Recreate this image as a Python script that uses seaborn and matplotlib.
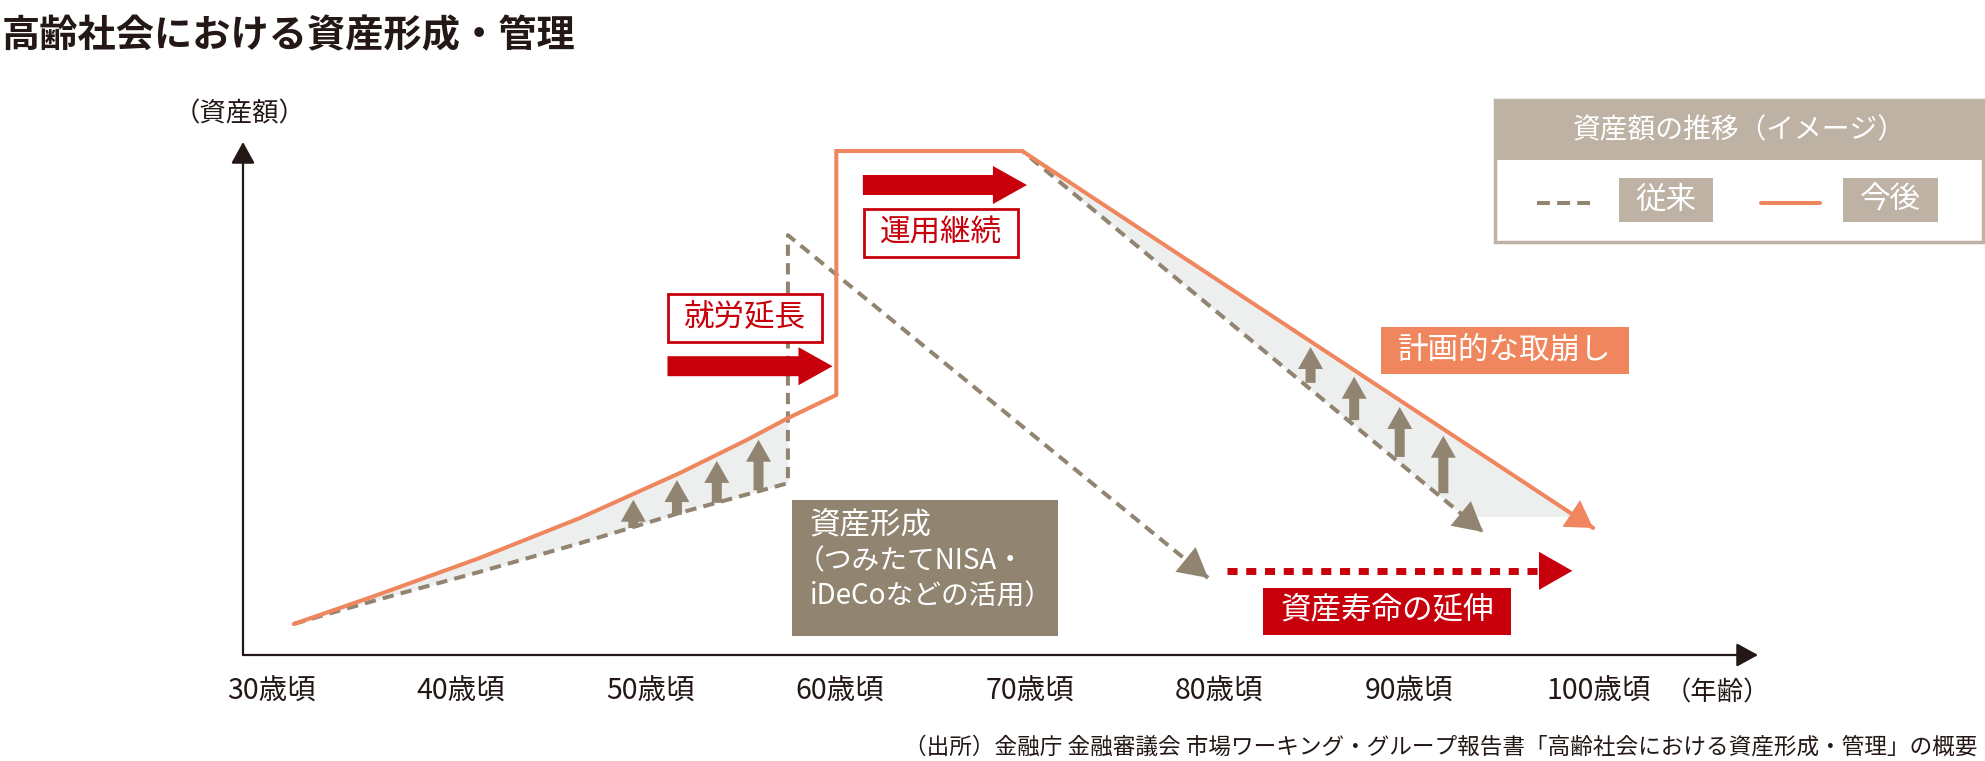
import numpy as np
import matplotlib
matplotlib.use("Agg")
import matplotlib.pyplot as plt
from matplotlib.patches import Rectangle
from matplotlib.lines import Line2D
import seaborn as sns

# data: age (years) vs asset amount (image units, peak = 100)
future_age = [31.2, 35.75, 41.0, 46.3, 51.55, 55.1, 57.25, 59.8, 59.8, 69.6, 99.7]
future_amt = [6.15, 12.1, 19.25, 27.2, 36.1, 42.7, 47.0, 51.6, 100, 100, 25.2]

past_age = [31.2, 32.95, 35.75, 41.0, 46.3, 51.55, 57.25, 57.25, 79.4]
past_amt = [6.15, 8.1, 11.1, 16.5, 22.2, 28.2, 34.1, 83.3, 15.3]

past2_age = [69.6, 93.9]
past2_amt = [100, 24.4]

# small up arrows (asset build-up / slower drawdown)
boost_age = [49.1, 51.4, 53.5, 55.7]
boost_from = [25.2, 27.8, 30.2, 32.7]
boost_to = [30.8, 34.7, 38.5, 42.7]

draw_age = [84.8, 87.1, 89.5, 91.8]
draw_from = [54.0, 46.6, 39.3, 32.1]
draw_to = [61.1, 55.2, 49.2, 43.5]

fill_floor = 27.4

tick_ages = [30, 40, 50, 60, 70, 80, 90, 100]
tick_labels = [f"{a}歳頃" for a in tick_ages]

# red arrows: (start age, end age, level)
work_arrow = (50.9, 59.6, 57.3)
invest_arrow = (61.2, 69.85, 93.25)
life_arrow = (80.4, 98.6, 16.7)

orange = "#EF865D"
brown = "#918470"
red = "#C7000B"
taupe = "#BDB2A4"
fillc = "#EDEFEE"

sns.set_style("white")
plt.rcParams["font.family"] = ["Noto Sans CJK JP", "DejaVu Sans"]

W, H = 1985, 761
def fx(x): return x / W
def fy(y): return 1 - y / H

fig = plt.figure(figsize=(W / 100, H / 100), dpi=100)

# pixel layout of the plot area
px30, px_year, py0, py_unit = 271, 18.97, 655, 5.04
left_px, right_px, top_px = 243, 1758, 142
ax = fig.add_axes([fx(left_px), fy(py0), (right_px - left_px) / W, (py0 - top_px) / H])
ax.set_xlim(30 + (left_px - px30) / px_year, 30 + (right_px - px30) / px_year)
ax.set_ylim(0, (py0 - top_px) / py_unit)
for s in ax.spines.values():
    s.set_visible(False)
ax.set_xticks(tick_ages, tick_labels)
ax.set_yticks([])
ax.tick_params(axis="x", length=0, pad=16, labelsize=20.5, labelcolor="#231815")
ax.set_xlabel("")
ax.set_ylabel("")

# axis arrows
ax_arrow = dict(arrowstyle="-|>,head_length=0.6,head_width=0.33", color="#231815",
                lw=1.6, shrinkA=0, shrinkB=0, mutation_scale=22)
ax.annotate("", xy=(1, 0), xytext=(0, 0), xycoords="axes fraction", arrowprops=ax_arrow, annotation_clip=False)
ax.annotate("", xy=(0, 1), xytext=(0, 0), xycoords="axes fraction", arrowprops=ax_arrow, annotation_clip=False)

# shaded gaps
xs = np.linspace(past_age[0], past_age[6], 300)
up = np.interp(xs, future_age[:8], future_amt[:8])
lo = np.interp(xs, past_age[:7], past_amt[:7])
ax.fill_between(xs, lo, up, color=fillc, lw=0, zorder=1)

or_end = np.interp(fill_floor, [future_amt[-1], future_amt[-2]], [future_age[-1], future_age[-2]])
br_end = np.interp(fill_floor, [past2_amt[1], past2_amt[0]], [past2_age[1], past2_age[0]])
ax.fill([past2_age[0], or_end, br_end], [past2_amt[0], fill_floor, fill_floor], color=fillc, lw=0, zorder=1)

# lines
sns.lineplot(x=past_age, y=past_amt, sort=False, estimator=None, color=brown, lw=2.9, ax=ax, zorder=3)
ax.lines[-1].set_linestyle((0, (2.8, 1.8)))
sns.lineplot(x=past2_age, y=past2_amt, sort=False, estimator=None, color=brown, lw=2.9, ax=ax, zorder=3)
ax.lines[-1].set_linestyle((2, (2.8, 1.8)))
sns.lineplot(x=future_age, y=future_amt, sort=False, estimator=None, color=orange, lw=2.9, ax=ax, zorder=4)
ax.lines[-1].set_solid_joinstyle("miter")

def head(tip, tail, color, length, width):
    ax.annotate("", xy=tip, xytext=tail,
                arrowprops=dict(arrowstyle=f"-|>,head_length={length},head_width={width}",
                                color=color, lw=0, shrinkA=0, shrinkB=0, mutation_scale=10),
                zorder=5, annotation_clip=False)

head((past_age[-1], past_amt[-1]), (past_age[-2], past_amt[-2]), brown, 2.1, 1.15)
head((past2_age[-1], past2_amt[-1]), (past2_age[0], past2_amt[0]), brown, 2.1, 1.15)
head((future_age[-1], future_amt[-1]), (future_age[-2], future_amt[-2]), orange, 1.9, 1.15)

def block(x0, y0, x1, y1, color, hl, hw, tw):
    ax.annotate("", xy=(x1, y1), xytext=(x0, y0),
                arrowprops=dict(arrowstyle=f"simple,head_length={hl},head_width={hw},tail_width={tw}",
                                color=color, lw=0, shrinkA=0, shrinkB=0, mutation_scale=10),
                zorder=6, annotation_clip=False)

for a, f, t in zip(boost_age, boost_from, boost_to):
    block(a, f, a, t, brown, 1.58, 1.8, 0.72)
for a, f, t in zip(draw_age, draw_from, draw_to):
    block(a, f, a, t, brown, 1.58, 1.8, 0.72)

block(work_arrow[0], work_arrow[2], work_arrow[1], work_arrow[2], red, 2.45, 2.74, 1.44)
block(invest_arrow[0], invest_arrow[2], invest_arrow[1], invest_arrow[2], red, 2.45, 2.74, 1.44)

# life extension dashed arrow
life_x = [life_arrow[0], life_arrow[1] - 1.6]
sns.lineplot(x=life_x, y=[life_arrow[2]] * 2, sort=False, estimator=None, color=red, lw=5, ax=ax, zorder=5)
ax.lines[-1].set_linestyle((0, (1.45, 1.25)))
head((life_arrow[1], life_arrow[2]), (life_arrow[0], life_arrow[2]), red, 2.4, 1.37)

# boxes and texts (figure pixels)
def box(x0, y0, x1, y1, fc, ec=None, lw=0):
    fig.add_artist(Rectangle((fx(x0), fy(y1)), (x1 - x0) / W, (y1 - y0) / H,
                             transform=fig.transFigure, facecolor=fc,
                             edgecolor=ec if ec else fc, lw=lw, zorder=5))

def label(x, y, s, size, color, ha="center", weight="normal"):
    fig.text(fx(x), fy(y), s, ha=ha, va="center", fontsize=size, color=color,
             fontweight=weight, zorder=6)

label(2, 36, "高齢社会における資産形成・管理", 27.5, "#231815", ha="left", weight="bold")
label(240, 114, "（資産額）", 19, "#231815")
label(1717, 693, "（年齢）", 19, "#231815")
label(1977, 747, "（出所）金融庁 金融審議会 市場ワーキング・グループ報告書「高齢社会における資産形成・管理」の概要",
      16.3, "#231815", ha="right")

box(668, 294, 822, 342, "white", red, 2)
label(745, 318, "就労延長", 22, red)
box(864, 209, 1018, 257, "white", red, 2)
label(941, 233, "運用継続", 22, red)
box(1381, 327, 1629, 374, orange)
label(1505, 350, "計画的な取崩し", 22, "white")
box(1263, 588, 1511, 635, red)
label(1387, 611, "資産寿命の延伸", 22, "white")

box(792, 500, 1058, 636, brown)
label(810, 525, "資産形成", 22, "white", ha="left")
label(797, 561, "（つみたてNISA・", 20, "white", ha="left")
label(810, 596, "iDeCoなどの活用）", 20, "white", ha="left")

# legend
box(1495, 100, 1983, 242, "white", taupe, 2.5)
box(1495, 100, 1983, 160, taupe)
label(1739, 130, "資産額の推移（イメージ）", 20, "white")
fig.add_artist(Line2D([fx(1537), fx(1590)], [fy(203), fy(203)], transform=fig.transFigure,
                      color=brown, lw=2.9, linestyle=(0, (3.2, 1.8)), zorder=6))
box(1619, 178, 1713, 222, taupe)
label(1666, 200, "従来", 22, "white")
fig.add_artist(Line2D([fx(1761), fx(1820)], [fy(203), fy(203)], transform=fig.transFigure,
                      color=orange, lw=2.9, zorder=6))
box(1843, 178, 1938, 222, taupe)
label(1890, 200, "今後", 22, "white")

fig.savefig("out.png", dpi=100)
